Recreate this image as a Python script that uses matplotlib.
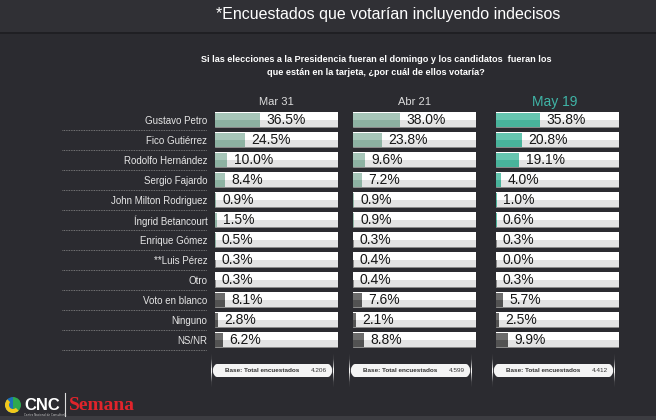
import matplotlib
matplotlib.use("Agg")
import matplotlib.pyplot as plt
from matplotlib.patches import FancyBboxPatch, Rectangle, Wedge
from matplotlib.transforms import blended_transform_factory

# ---- data ----
candidates = ["Gustavo Petro", "Fico Gutiérrez", "Rodolfo Hernández", "Sergio Fajardo",
              "John Milton Rodriguez", "Íngrid Betancourt", "Enrique Gómez", "**Luis Pérez",
              "Otro", "Voto en blanco", "Ninguno", "NS/NR"]
dates = ["Mar 31", "Abr 21", "May 19"]
mar31 = [36.5, 24.5, 10.0, 8.4, 0.9, 1.5, 0.5, 0.3, 0.3, 8.1, 2.8, 6.2]
abr21 = [38.0, 23.8, 9.6, 7.2, 0.9, 0.9, 0.3, 0.4, 0.4, 7.6, 2.1, 8.8]
may19 = [35.8, 20.8, 19.1, 4.0, 1.0, 0.6, 0.3, 0.0, 0.3, 5.7, 2.5, 9.9]
bases = ["4.206", "4.599", "4.412"]
n_named = 9  # rows drawn in colour; the rest (blank / none / NS-NR) in grey

BG = "#2b2b30"
W, H = 656, 420

fig = plt.figure(figsize=(W / 100, H / 100), dpi=100, facecolor=BG)

# decoration layer in pixel coordinates
deco = fig.add_axes([0, 0, 1, 1], zorder=0)
deco.set_xlim(0, W)
deco.set_ylim(H, 0)
deco.axis("off")
deco.add_patch(Rectangle((0, 0), W, 32, color="#303035", lw=0))
deco.add_patch(Rectangle((0, 32), W, 2, color="#1f1f23", lw=0))
deco.add_patch(Rectangle((0, 416), W, 4, color="#3c3c41", lw=0))

fig.text(388 / W, 1 - 14 / H, "*Encuestados que votarían incluyendo indecisos",
         ha="center", va="center", color="white", fontsize=11.5,
         family="Liberation Sans")
fig.text(376 / W, 1 - 66 / H,
         "Si las elecciones a la Presidencia fueran el domingo y los candidatos  fueran los\n"
         "que están en la tarjeta, ¿por cuál de ellos votaría?",
         ha="center", va="center", color="white", fontsize=6.6, fontweight="bold",
         family="Liberation Sans", linespacing=1.45)

# logo
deco.add_patch(Wedge((13, 405), 8, 90, 270, color="#1d6fb8", lw=0))
deco.add_patch(Wedge((13, 405), 8, -90, 90, color="#2ea84f", lw=0))
deco.add_patch(Wedge((13, 405), 8, 45, 225, width=4, color="#f2c81b", lw=0))
deco.text(24, 405, "CNC", color="white", fontsize=12, fontweight="bold",
          va="center", ha="left", family="Liberation Sans")
deco.text(24, 415, "Centro Nacional de Consultoría", color="#cccccc", fontsize=2,
          va="center", ha="left")
deco.plot([65, 65], [393, 416], color="#dddddd", lw=0.8)
deco.text(69, 406, "Semana", color="#e1242b", fontsize=14, fontweight="bold",
          va="center", ha="left", family="Liberation Serif")

series = [mar31, abr21, may19]
lefts = [215, 353, 496]
box_w = 123
top_px, bot_px = 110, 350
bar_h = 0.72

fills = [("#a7c6b9", "#8db2a2"), ("#a7c6b9", "#8db2a2"), ("#66c6b0", "#48b39b")]
grey = ("#6c6c6c", "#525252")

for k, (vals, date) in enumerate(zip(series, dates)):
    ax = fig.add_axes([lefts[k] / W, 1 - bot_px / H, box_w / W, (bot_px - top_px) / H],
                      zorder=2)
    ax.set_facecolor("none")
    y = list(range(len(candidates)))
    ax.set_xlim(0, 100)
    ax.set_ylim(len(candidates) - 0.5, -0.5)

    # empty box: lower half grey, upper half white
    ax.barh(y, [100] * len(y), height=bar_h, color="#e3e3e3", edgecolor="#8a8a8a",
            linewidth=0.6, zorder=1)
    ax.barh([v - bar_h / 4 - 0.02 for v in y], [99.6] * len(y), left=0.2,
            height=bar_h / 2, color="white", linewidth=0, zorder=1.5)

    tops = [fills[k][0] if i < n_named else grey[0] for i in y]
    bots = [fills[k][1] if i < n_named else grey[1] for i in y]
    ax.barh(y, vals, height=bar_h - 0.04, color=bots, linewidth=0, zorder=2)
    ax.barh([v - bar_h / 4 for v in y], vals, height=bar_h / 2 - 0.04, color=tops,
            linewidth=0, zorder=2.5)

    for yi, v in zip(y, vals):
        ax.annotate(f"{v:.1f}%", (v, yi), xytext=(4.5, 0), textcoords="offset points",
                    ha="left", va="center", fontsize=10, color="#151515",
                    family="Liberation Sans", zorder=3)

    for s in ax.spines.values():
        s.set_visible(False)
    ax.set_xticks([])
    if k == 0:
        ax.set_yticks(y, candidates)
        ax.tick_params(axis="y", length=0, pad=5.5, labelsize=7, labelcolor="#e6e6e6")
        for lab in ax.get_yticklabels():
            lab.set_family("Liberation Sans")
        tr = blended_transform_factory(ax.transAxes, ax.transData)
        for yi in y:
            ax.plot([(62 - 215) / box_w, (207 - 215) / box_w], [yi + 0.5, yi + 0.5],
                    transform=tr, color="#8c8c8c", lw=0.6, ls=(0, (1, 1)),
                    clip_on=False)
    else:
        ax.set_yticks([])

    # column header
    if k == 2:
        ax.text(0.48, 1.0 + 8 / (bot_px - top_px), date, transform=ax.transAxes,
                ha="center", va="center", color="#3fb4a6", fontsize=10,
                family="Liberation Sans")
    else:
        ax.text(0.5, 1.0 + 8 / (bot_px - top_px), date, transform=ax.transAxes,
                ha="center", va="center", color="#dcdcdc", fontsize=8,
                family="Liberation Sans")

    # base pill
    hpx = bot_px - top_px
    pill = FancyBboxPatch((-4 / box_w, -27 / hpx), 1.0, 13 / hpx,
                          boxstyle="round,pad=0,rounding_size=0.05",
                          transform=ax.transAxes, facecolor="#f4f4f4",
                          edgecolor="none", clip_on=False, zorder=1,
                          mutation_aspect=hpx / box_w)
    ax.add_patch(pill)
    ax.text(10 / box_w, -20.5 / hpx, "Base: Total encuestados", transform=ax.transAxes,
            ha="left", va="center", fontsize=4.6, fontweight="bold", color="#333333",
            family="Liberation Sans")
    ax.text(96 / box_w, -20.5 / hpx, bases[k], transform=ax.transAxes,
            ha="left", va="center", fontsize=4.6, color="#333333",
            family="Liberation Sans")

fig.savefig("out.png", dpi=100, facecolor=BG)
